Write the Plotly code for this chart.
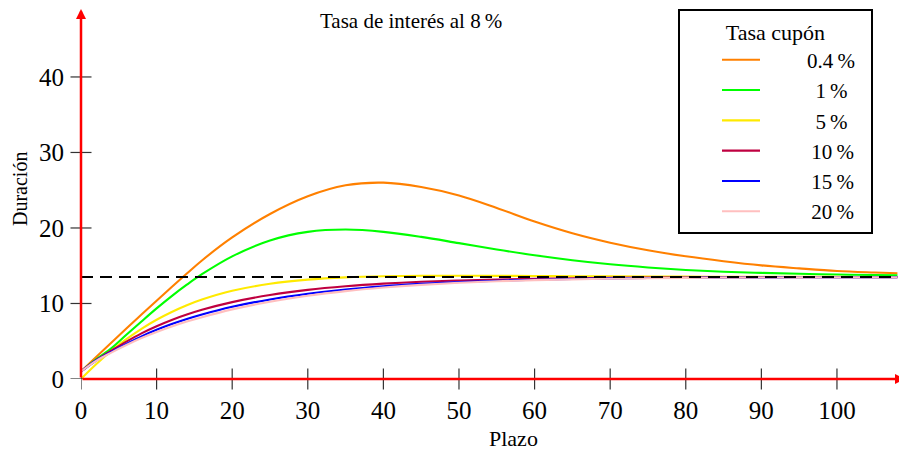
import plotly.graph_objects as go

# Plazo (years)
plazo = [0, 2, 4, 6, 8, 10, 12, 14, 16, 20, 25, 30, 35, 40, 45, 50, 55, 60, 65, 70,
         75, 80, 85, 90, 95, 100, 105, 108]

# Duración for each coupon rate
dur_04 = [1.0, 2.9, 4.8, 6.68, 8.53, 10.37, 12.18, 13.96, 15.7, 18.75, 21.85, 24.2, 25.65, 26.0,
          25.42, 24.3, 22.65, 20.85, 19.3, 18.05, 17.05, 16.25, 15.6, 15.05, 14.65, 14.3, 14.1, 14.0]
dur_1 = [1.0, 2.6, 4.05, 5.85, 7.62, 9.35, 10.98, 12.49, 13.88, 16.24, 18.34, 19.48, 19.79, 19.49,
         18.82, 17.99, 17.15, 16.38, 15.73, 15.19, 14.77, 14.44, 14.2, 14.05, 13.93, 13.84, 13.77, 13.74]
dur_5 = [0.0, 1.95, 3.71, 5.27, 6.65, 7.85, 8.88, 9.77, 10.52, 11.68, 12.61, 13.16, 13.46, 13.61,
         13.67, 13.68, 13.66, 13.64, 13.61, 13.59, 13.57, 13.56, 13.54, 13.53, 13.52, 13.52, 13.51, 13.51]
dur_10 = [1.0, 2.5, 3.75, 4.95, 6.05, 6.99, 7.82, 8.53, 9.16, 10.18, 11.12, 11.8, 12.28, 12.63,
          12.88, 13.05, 13.18, 13.27, 13.34, 13.39, 13.42, 13.44, 13.46, 13.47, 13.48, 13.49, 13.49, 13.49]
dur_15 = [1.0, 2.45, 3.6, 4.65, 5.65, 6.51, 7.27, 7.94, 8.54, 9.56, 10.54, 11.29, 11.86, 12.28,
          12.6, 12.84, 13.02, 13.15, 13.25, 13.32, 13.37, 13.41, 13.43, 13.45, 13.47, 13.48, 13.48, 13.49]
dur_20 = [1.0, 2.4, 3.5, 4.5, 5.42, 6.22, 6.94, 7.6, 8.19, 9.22, 10.24, 11.03, 11.64, 12.11,
          12.47, 12.74, 12.94, 13.09, 13.2, 13.28, 13.34, 13.39, 13.42, 13.44, 13.46, 13.47, 13.48, 13.48]

series_names = ["0.4\u2009%", "1\u2009%", "5\u2009%", "10\u2009%", "15\u2009%", "20\u2009%"]
series_values = [dur_04, dur_1, dur_5, dur_10, dur_15, dur_20]
series_colors = ["#FF8000", "#00FF00", "#FFEA00", "#BF0040", "#0000FF", "#FFBFBF"]
FS = "\u2007"
TS = "\u2009"
label_pad = [FS * 4, FS * 4 + TS * 2, FS * 4 + TS * 2, FS * 4 + TS, FS * 4 + TS, FS * 4 + TS]
label_tail = FS

# Limit duration (1+y)/y at 8 %
limite_x = [0, 108]
limite_y = [13.5, 13.5]

x_ticks = [0, 10, 20, 30, 40, 50, 60, 70, 80, 90, 100]
y_ticks = [0, 10, 20, 30, 40]

FONT = "Liberation Serif"

fig = go.Figure()
for i, (name, vals, col) in enumerate(zip(series_names, series_values, series_colors)):
    fig.add_trace(go.Scatter(
        x=plazo, y=vals, mode="lines", name=label_pad[i] + name + label_tail,
        line=dict(color=col, width=2.1, shape="spline", smoothing=1.0),
        legendgroup=f"g{i}",
    ))

fig.add_trace(go.Scatter(
    x=limite_x, y=limite_y, mode="lines", showlegend=False,
    line=dict(color="black", width=2, dash="12px,7px"),
))

shapes = []
for v in x_ticks:
    shapes.append(dict(type="line", xref="x", x0=v, x1=v, yref="paper", ysizemode="pixel",
                       yanchor=0, y0=-10.5, y1=10.5, line=dict(color="#333333", width=1.2)))
for v in y_ticks:
    shapes.append(dict(type="line", yref="y", y0=v, y1=v, xref="paper", xsizemode="pixel",
                       xanchor=0, x0=-10.5, x1=10.5, line=dict(color="#333333", width=1.2)))

# the page body adds an 8 px offset; the figure is sized/placed to compensate
OFF = 8
W, H = 907 - OFF, 455 - OFF
L, R, T, B = 81 - OFF, 2, 9 - OFF, 76
pw, ph = W - L - R, H - T - B


def px_x(p):
    return (p - OFF - L) / pw


def px_y(p):
    return (H - B - (p - OFF)) / ph


annotations = [
    # axes with arrows
    dict(x=109, y=0, ax=0, ay=0, xref="x", yref="y", axref="x", ayref="y", text="",
         showarrow=True, arrowhead=2, arrowsize=0.8, arrowwidth=2.5, arrowcolor="red", standoff=0),
    dict(x=0, y=49, ax=0, ay=0, xref="x", yref="y", axref="x", ayref="y", text="",
         showarrow=True, arrowhead=2, arrowsize=0.8, arrowwidth=2.5, arrowcolor="red", standoff=0),
    dict(text="Tasa de interés al 8\u2009%", x=px_x(411), y=px_y(8), xref="paper", yref="paper",
         xanchor="center", yanchor="top", showarrow=False, borderpad=0,
         font=dict(family=FONT, size=21, color="black")),
    dict(text="Plazo", x=px_x(513), y=px_y(438), xref="paper", yref="paper",
         xanchor="center", yanchor="middle", showarrow=False,
         font=dict(family=FONT, size=22, color="black")),
    dict(text="Duración", x=px_x(20), y=px_y(189), xref="paper", yref="paper", textangle=-90,
         xanchor="center", yanchor="middle", showarrow=False,
         font=dict(family=FONT, size=20, color="black")),
]

fig.update_layout(
    width=W, height=H,
    margin=dict(l=L, r=R, t=T, b=B, autoexpand=False),
    plot_bgcolor="white", paper_bgcolor="white",
    font=dict(family=FONT, color="black"),
    xaxis=dict(range=[0, 109], showgrid=False, zeroline=False, showline=False, automargin=False,
               tickvals=x_ticks, ticks="", ticklabelstandoff=14,
               tickfont=dict(family=FONT, size=25, color="black")),
    yaxis=dict(range=[0, 49], showgrid=False, zeroline=False, showline=False, automargin=False,
               tickvals=y_ticks, ticks="", ticklabelstandoff=16,
               tickfont=dict(family=FONT, size=25, color="black")),
    shapes=shapes,
    annotations=annotations,
    legend=dict(
        x=px_x(678), y=min(1.0, px_y(8)), xanchor="left", yanchor="top",
        bgcolor="white", bordercolor="black", borderwidth=2,
        font=dict(family=FONT, size=21, color="black"),
        title=dict(text="Tasa cupón", side="top center", font=dict(family=FONT, size=22)),
        tracegroupgap=0, indentation=37, itemwidth=38, maxheight=455,
    ),
    showlegend=True,
)

fig.write_html("out.html")
